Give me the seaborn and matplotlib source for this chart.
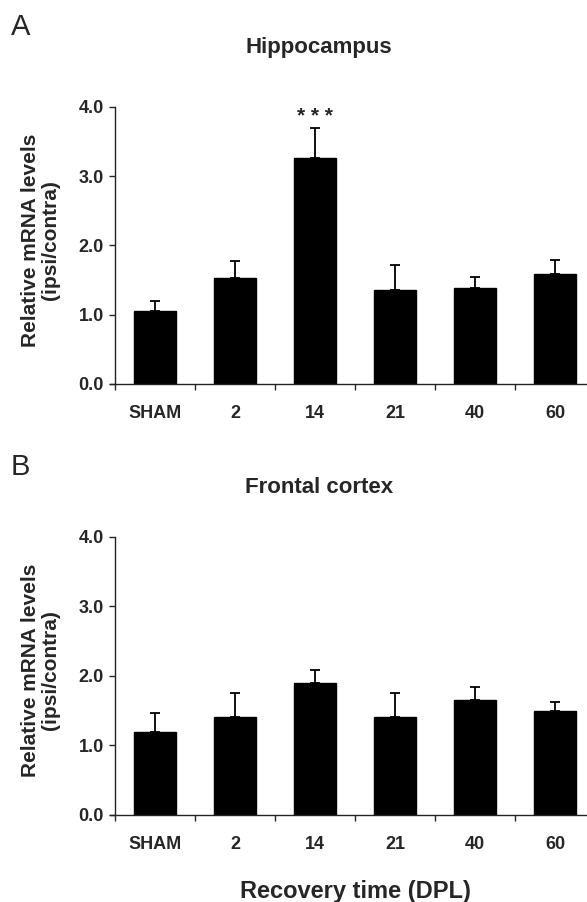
import numpy as np
import pandas as pd
import matplotlib
matplotlib.use("Agg")
import matplotlib.pyplot as plt
import seaborn as sns

# values (mean and upper end of the error bar)
groups = ["SHAM", "2", "14", "21", "40", "60"]
hippo_mean = [1.06, 1.53, 3.26, 1.35, 1.39, 1.59]
hippo_top = [1.20, 1.77, 3.70, 1.72, 1.55, 1.79]
cortex_mean = [1.20, 1.41, 1.90, 1.41, 1.65, 1.49]
cortex_top = [1.46, 1.76, 2.08, 1.76, 1.84, 1.62]
y_ticks = [0, 1, 2, 3, 4]

sns.set_style("ticks")
plt.rcParams["font.family"] = ["Liberation Sans", "DejaVu Sans"]


def panel(ax, means, tops, stars=None):
    df = pd.DataFrame({"group": groups, "value": means})
    sns.barplot(data=df, x="group", y="value", color="black", width=0.52,
                edgecolor="black", errorbar=None, ax=ax, saturation=1)
    x = np.arange(len(groups))
    up = np.array(tops) - np.array(means)
    ax.errorbar(x, means, yerr=[np.zeros(len(x)), up], fmt="none",
                ecolor="black", elinewidth=1.3, capsize=3.5, capthick=1.3)
    ax.set_xlim(-0.5625, 5.4)
    ax.set_ylim(0, 4)
    sns.despine(ax=ax)
    ax.spines["left"].set_position(("data", -0.5))
    ax.spines["left"].set_bounds(0, 4)
    for s in ["left", "bottom"]:
        ax.spines[s].set_linewidth(1.0)
        ax.spines[s].set_color("#222222")
    ax.set_yticks(y_ticks)
    ax.set_yticklabels([f"{v:.1f}" for v in y_ticks], fontsize=13,
                       fontweight="bold")
    ax.tick_params(axis="y", length=4, width=1, pad=4)
    ax.set_xticks(x)
    ax.set_xticklabels(groups, fontsize=13, fontweight="bold")
    ax.set_xticks(np.arange(-0.5, 5.0, 1.0), minor=True)
    ax.tick_params(axis="x", which="major", length=0, pad=15)
    ax.tick_params(axis="x", which="minor", length=4, width=1)
    ax.set_xlabel("")
    ax.set_ylabel("Relative mRNA levels\n(ipsi/contra)", fontsize=15,
                  fontweight="bold", linespacing=1.05)
    ax.yaxis.set_label_coords(-0.105, 0.52)
    if stars:
        ax.text(2, 3.86, stars, ha="center", va="center", fontsize=15,
                fontweight="bold")


fig = plt.figure(figsize=(5.87, 9.02), dpi=100)
ax1 = fig.add_axes([0.1874, 0.5743, 0.8126, 0.3071])
ax2 = fig.add_axes([0.1874, 0.0965, 0.8126, 0.3082])

panel(ax1, hippo_mean, hippo_top, stars="* * *")
panel(ax2, cortex_mean, cortex_top)

fig.text(0.5434, 0.9468, "Hippocampus", ha="center", va="center",
         fontsize=16, fontweight="bold")
fig.text(0.5434, 0.459, "Frontal cortex", ha="center", va="center",
         fontsize=16, fontweight="bold")
fig.text(0.018, 0.970, "A", ha="left", va="center", fontsize=21)
fig.text(0.018, 0.482, "B", ha="left", va="center", fontsize=21)
fig.text(0.605, 0.012, "Recovery time (DPL)", ha="center", va="center",
         fontsize=17, fontweight="bold")

plt.savefig("out.png", dpi=100)
